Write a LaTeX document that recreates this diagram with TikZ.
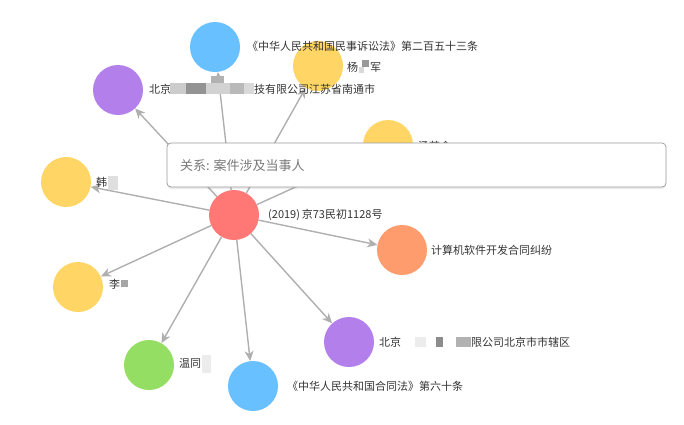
\documentclass[tikz,border=0pt]{standalone}
\usepackage{fontspec}
\setmainfont{Noto Sans CJK SC}
\usetikzlibrary{arrows.meta,shadows}
\definecolor{cred}{HTML}{FF7875}
\definecolor{cblue}{HTML}{69C0FF}
\definecolor{cpurple}{HTML}{B37FEB}
\definecolor{cyellow}{HTML}{FFD666}
\definecolor{cgreen}{HTML}{95DE64}
\definecolor{corange}{HTML}{FF9C6E}
\definecolor{ctext}{HTML}{333333}
\tikzset{
  ent/.style={circle,minimum size=50pt,inner sep=0pt},
  lab/.style={anchor=west,font=\fontsize{11pt}{13pt}\selectfont,text=ctext,inner sep=0pt},
  link/.style={draw={rgb,255:red,175;green,175;blue,175},line width=1.4pt,-{Stealth[length=10pt,width=9pt,inset=3pt]}},
}
\begin{document}
\begin{tikzpicture}[x=1pt,y=-1pt]
\useasboundingbox (0,0) rectangle (684,424);
\node[ent,fill=cred] (c) at (234,215) {};
\node[ent,fill=cblue] (b1) at (215,47) {};
\node[ent,fill=cpurple] (p1) at (118,90) {};
\node[ent,fill=cyellow] (y1) at (318,66) {};
\node[ent,fill=cyellow] (y2) at (388,145) {};
\node[ent,fill=cyellow] (y3) at (66,182) {};
\node[ent,fill=cyellow] (y4) at (78,287) {};
\node[ent,fill=cgreen] (g1) at (149,365) {};
\node[ent,fill=cblue] (b2) at (253,386) {};
\node[ent,fill=cpurple] (p2) at (349,342) {};
\node[ent,fill=corange] (o1) at (402,250) {};
\foreach \t in {b1,p1,y1,y2,y3,y4,g1,b2,p2,o1} \draw[link] (c) -- (\t);
\node[lab] (lc) at (268,215) {(2019)\,京73民初1128号};
\node[lab] (lb1) at (247,46) {《中华人民共和国民事诉讼法》第二百五十三条};
\node[lab] (lp1) at (149,89) {北京\hspace{83pt}技有限公司江苏省南通市};
\fill[gray!40] (170,83) rectangle (186,94); \fill[gray!85] (186,83) rectangle (206,94);
\fill[gray!35] (206,83) rectangle (230,94); \fill[gray!55] (230,83) rectangle (244,94);
\fill[gray!30] (244,83) rectangle (254,94); \fill[gray!60] (211,76) rectangle (224,83);
\node[lab] (ly1) at (347,67) {杨\hspace{12pt}军};
\fill[gray!80] (362,60) rectangle (369,67); \fill[gray!30] (359,67) rectangle (364,73);
\node[lab] (ly2) at (418,146) {汤若会};
\node[lab] (ly3) at (96,182) {韩};
\fill[gray!25] (108,176) rectangle (118,190);
\node[lab] (ly4) at (109,284) {李};
\fill[gray!70] (121,280) rectangle (128,287);
\node[lab] (lg1) at (179,363) {温同};
\fill[gray!15] (202,355) rectangle (211,373);
\node[lab] (lb2) at (287,386) {《中华人民共和国合同法》第六十条};
\node[lab] (lp2) at (379,342) {北京\hspace{70pt}限公司北京市市辖区};
\fill[gray!15] (415,337) rectangle (426,347); \fill[gray!90] (436,337) rectangle (443,347);
\fill[gray!60] (456,337) rectangle (471,347);
\node[lab] (lo1) at (431,250) {计算机软件开发合同纠纷};
\node[draw=gray!80,fill=white,rounded corners=4pt,line width=0.7pt,minimum width=499pt,minimum height=44pt,drop shadow={opacity=0.15,shadow xshift=0pt,shadow yshift=-2pt},inner sep=0pt] (tip) at (416.5,165) {};
\node[anchor=west,font=\fontsize{13pt}{15pt}\selectfont,text=gray!95!black,inner sep=0pt] (tiptext) at (180,166) {关系: 案件涉及当事人};
\end{tikzpicture}
\end{document}
